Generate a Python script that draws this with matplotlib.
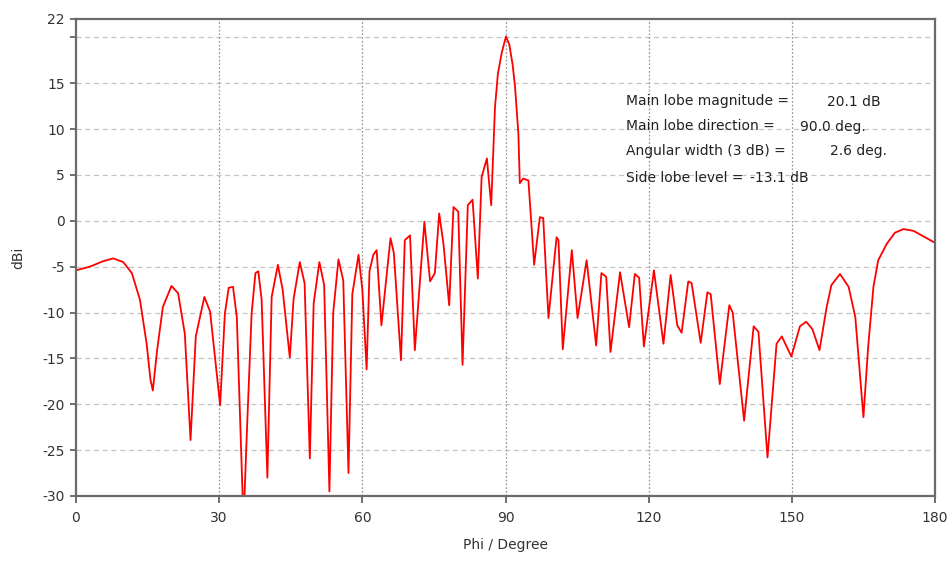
import numpy as np
import matplotlib
matplotlib.use("Agg")
import matplotlib.pyplot as plt

# pattern cut (phi in degrees, gain in dBi)
phi = [0.0, 2.9, 5.7, 7.8, 9.9, 11.7, 13.4, 14.8, 15.6, 16.1, 17.0, 18.2, 20.0, 21.4,
       22.8, 24.0, 25.1, 26.9, 28.1, 30.2, 31.2, 32.0, 32.9, 33.7, 35.1, 35.8, 36.8,
       37.6, 38.2, 38.9, 40.1, 41.0, 42.3, 43.3, 44.8, 45.6, 46.9, 47.9, 49.0, 49.8,
       51.0, 52.0, 53.1, 53.9, 55.0, 56.0, 57.1, 57.9, 59.2, 60.0, 60.9, 61.5, 62.3,
       63.0, 64.0, 65.9, 66.6, 68.1, 68.9, 70.0, 71.0, 73.0, 74.2, 75.2, 76.1, 77.0,
       78.2, 79.1, 80.1, 81.0, 82.1, 83.1, 84.2, 85.0, 86.1, 87.0, 87.8, 88.4, 89.2,
       90.1, 90.8, 91.5, 92.0, 92.7, 93.0, 93.7, 94.8, 96.0, 97.2, 97.9, 99.0, 100.7,
       101.1, 102.0, 103.9, 105.1, 107.0, 109.0, 110.1, 111.1, 112.0, 114.0, 115.9,
       117.1, 118.0, 119.0, 121.1, 123.1, 124.6, 126.0, 126.9, 128.3, 129.0, 130.9,
       132.3, 133.0, 134.9, 136.9, 137.6, 140.0, 142.0, 143.0, 144.9, 146.8, 147.9,
       149.9, 151.7, 153.0, 154.3, 155.8, 157.3, 158.3, 160.1, 161.9, 163.3, 165.0,
       166.0, 167.1, 168.1, 169.9, 171.6, 173.4, 175.5, 177.6, 180.0]
gain = [-5.4, -5.0, -4.4, -4.1, -4.5, -5.7, -8.6, -13.4, -17.3, -18.5, -14.1, -9.4, -7.1, -7.9,
        -12.3, -23.9, -12.6, -8.3, -9.9, -20.1, -10.1, -7.3, -7.2, -10.5, -33.0, -23.1, -10.1,
        -5.7, -5.5, -8.6, -28.0, -8.3, -4.8, -7.5, -14.9, -8.5, -4.5, -6.8, -25.9, -9.0,
        -4.5, -7.0, -29.5, -10.0, -4.2, -6.5, -27.5, -8.0, -3.7, -7.5, -16.2, -5.5, -3.7,
        -3.2, -11.4, -1.9, -3.5, -15.2, -2.1, -1.6, -14.1, -0.1, -6.6, -5.7, 0.8, -2.5,
        -9.2, 1.5, 1.0, -15.7, 1.7, 2.3, -6.3, 4.8, 6.8, 1.7, 12.4, 16.0, 18.3,
        20.1, 19.2, 17.0, 14.6, 9.5, 4.1, 4.6, 4.4, -4.8, 0.4, 0.3, -10.6, -1.8,
        -2.1, -14.0, -3.2, -10.6, -4.3, -13.6, -5.7, -6.1, -14.3, -5.6, -11.6,
        -5.8, -6.2, -13.7, -5.4, -13.4, -5.9, -11.4, -12.2, -6.6, -6.8, -13.3,
        -7.8, -8.0, -17.8, -9.2, -10.0, -21.8, -11.5, -12.1, -25.8, -13.4, -12.6,
        -14.8, -11.5, -11.0, -11.8, -14.1, -9.4, -7.0, -5.8, -7.2, -10.5, -21.4,
        -13.7, -7.2, -4.3, -2.5, -1.3, -0.9, -1.1, -1.7, -2.4]

x_ticks = [0, 30, 60, 90, 120, 150, 180]
y_ticks = [-30, -25, -20, -15, -10, -5, 0, 5, 10, 15, 20, 22]
y_labels = ['-30', '-25', '-20', '-15', '-10', '-5', '0', '5', '10', '15', '', '22']

info_labels = ['Main lobe magnitude =', 'Main lobe direction =',
               'Angular width (3 dB) =', 'Side lobe level =']
info_values = ['20.1 dB', '90.0 deg.', '2.6 deg.', '-13.1 dB']

W, H = 950, 561
fig = plt.figure(figsize=(W / 100, H / 100), dpi=100)
ax = fig.add_axes([76 / W, 1 - 496 / H, (935 - 76) / W, (496 - 19) / H])

ax.plot(phi, gain, color='#ff0000', lw=1.3, solid_joinstyle='round')

ax.set_xlim(0, 180)
ax.set_ylim(-30, 22)
ax.set_xticks(x_ticks)
ax.set_yticks(y_ticks)
ax.set_yticklabels(y_labels)

# grid: dashed horizontal, dotted vertical
for y in y_ticks[1:-1]:
    ax.axhline(y, color='#c4c4c4', lw=0.9, ls=(0, (4, 3)), zorder=0)
for x in x_ticks[1:-1]:
    ax.axvline(x, color='#9a9a9a', lw=0.9, ls=(0, (1.5, 1.5)), zorder=0)

for s in ax.spines.values():
    s.set_color('#6a6a6a')
    s.set_linewidth(1.6)
ax.tick_params(direction='out', width=1.2, color='#555555',
               labelsize=10, labelcolor='#333333')
ax.tick_params(axis='x', length=5, pad=6)
ax.tick_params(axis='y', length=4, pad=4)

ax.set_xlabel('Phi / Degree', fontsize=10, color='#333333', labelpad=9)
ax.set_ylabel('dBi', fontsize=10, color='#333333', labelpad=12)

# info block: labels left aligned, values at their column unless the label runs into it
renderer = fig.canvas.get_renderer()
line_y = [101.5, 126.5, 151.5, 177.5]
value_x = [827, 800, 830, 742]
for lab, val, yy, vx in zip(info_labels, info_values, line_y, value_x):
    t = fig.text(626 / W, 1 - yy / H, lab, fontsize=10, color='#222222', va='center')
    end = t.get_window_extent(renderer).x1
    vx = max(vx, end + 6)
    fig.text(vx / W, 1 - yy / H, val, fontsize=10, color='#222222', va='center')

fig.savefig('out.png', dpi=100, facecolor='white')
